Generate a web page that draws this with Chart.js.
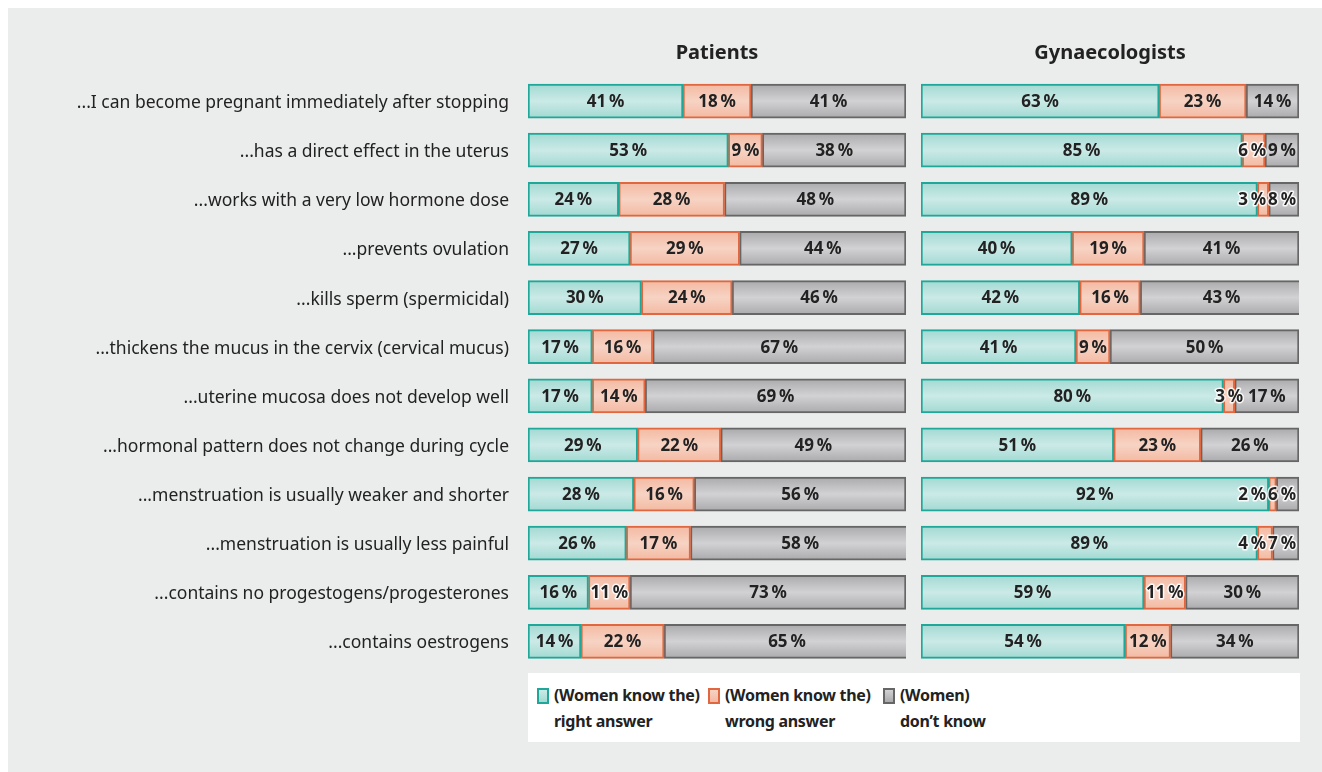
<!DOCTYPE html>
<html>
<head>
<meta charset="utf-8">
<script src="https://cdn.jsdelivr.net/npm/chart.js@4.4.1/dist/chart.umd.min.js"></script>
<style>
  body { margin: 0; background: #fff; width: 1322px; height: 772px; overflow: hidden; font-family: "Noto Sans", sans-serif; }
  #panel { position: absolute; left: 8px; top: 8px; width: 1314px; height: 764px; background: #ebecec; }
  canvas { position: absolute; }
  #legend { position: absolute; left: 528px; top: 673px; width: 772px; height: 69px; background: #fff; }
  .item { position: absolute; top: 9px; font-weight: bold; font-size: 16px; letter-spacing: -0.3px; line-height: 26px; color: #222; padding-left: 17px; }
  .item span.sw { position: absolute; left: 0; top: 6px; width: 8px; height: 12px; border: 2px solid; }
</style>
</head>
<body>
<div id="panel"></div>
<canvas id="patients" width="898" height="658" style="left:8px;top:8px"></canvas>
<canvas id="gyn" width="378" height="658" style="left:921px;top:8px"></canvas>
<div id="legend"></div>
<script>
const categories = [
  '...I can become pregnant immediately after stopping',
  '...has a direct effect in the uterus',
  '...works with a very low hormone dose',
  '...prevents ovulation',
  '...kills sperm (spermicidal)',
  '...thickens the mucus in the cervix (cervical mucus)',
  '...uterine mucosa does not develop well',
  '...hormonal pattern does not change during cycle',
  '...menstruation is usually weaker and shorter',
  '...menstruation is usually less painful',
  '...contains no progestogens/progesterones',
  '...contains oestrogens'
];
const seriesNames = [
  ['(Women know the)', 'right answer'],
  ['(Women know the)', 'wrong answer'],
  ['(Women)', 'don’t know']
];
const patRight = [41, 53, 24, 27, 30, 17, 17, 29, 28, 26, 16, 14];
const patWrong = [18, 9, 28, 29, 24, 16, 14, 22, 16, 17, 11, 22];
const patDontKnow = [41, 38, 48, 44, 46, 67, 69, 49, 56, 58, 73, 65];
const gynRight = [63, 85, 89, 40, 42, 41, 80, 51, 92, 89, 59, 54];
const gynWrong = [23, 6, 3, 19, 16, 9, 3, 23, 2, 4, 11, 12];
const gynDontKnow = [14, 9, 8, 41, 43, 50, 17, 26, 6, 7, 30, 34];

// edge colour, gradient edge, gradient middle
const colours = [
  ['#1fa899', '#a2d9d2', '#cbeae7'],
  ['#e0673f', '#f3b9a1', '#f7d3c4'],
  ['#666666', '#aaaaac', '#d2d2d4']
];

function gradient(c, edge, mid) {
  const chart = c.chart;
  if (!chart.chartArea || !chart.scales.y) return mid;
  const y = chart.scales.y.getPixelForValue(c.dataIndex);
  const g = chart.ctx.createLinearGradient(0, y - 17, 0, y + 17);
  g.addColorStop(0, edge);
  g.addColorStop(0.5, mid);
  g.addColorStop(1, edge);
  return g;
}

function makeDatasets(series) {
  return series.map((d, i) => ({
    label: seriesNames[i].join(' '),
    data: d,
    backgroundColor: c => gradient(c, colours[i][1], colours[i][2]),
    borderColor: colours[i][0],
    borderWidth: 2,
    borderSkipped: false,
    barThickness: 34
  }));
}

// percentage labels; crowded ones are pushed left so they don't collide
const valueLabels = {
  id: 'valueLabels',
  afterDatasetsDraw(chart) {
    const ctx = chart.ctx;
    const right = chart.chartArea.right - 3;
    ctx.save();
    ctx.font = 'bold 17px "Noto Sans"';
    ctx.textAlign = 'center';
    ctx.textBaseline = 'middle';
    ctx.lineJoin = 'round';
    chart.data.labels.forEach((_, i) => {
      const items = chart.data.datasets.map((ds, di) => {
        const bar = chart.getDatasetMeta(di).data[i];
        const txt = ds.data[i] + '\u2009%';
        const w = ctx.measureText(txt).width;
        return { txt, w, y: bar.y, cx: (bar.x + bar.base) / 2, seg: Math.abs(bar.x - bar.base) };
      });
      let limit = right;
      for (let k = items.length - 1; k >= 0; k--) {
        const it = items[k];
        if (it.cx + it.w / 2 > limit) it.cx = limit - it.w / 2;
        limit = it.cx - it.w / 2 - 2;
      }
      items.forEach(it => {
        if (it.w > it.seg - 4) {
          ctx.strokeStyle = 'rgba(255,255,255,0.85)';
          ctx.lineWidth = 3;
          ctx.strokeText(it.txt, it.cx, it.y + 1);
        }
        ctx.fillStyle = '#222';
        ctx.fillText(it.txt, it.cx, it.y + 1);
      });
    });
    ctx.restore();
  }
};

// panel title centred over the bar area
const panelTitle = {
  id: 'panelTitle',
  afterDraw(chart, args, opts) {
    const ctx = chart.ctx, a = chart.chartArea;
    ctx.save();
    ctx.font = 'bold 20px "Noto Sans"';
    ctx.fillStyle = '#222';
    ctx.textAlign = 'center';
    ctx.textBaseline = 'middle';
    ctx.fillText(opts.text, (a.left + a.right) / 2, 45);
    ctx.restore();
  }
};

function makeChart(id, title, series, showLabels) {
  return new Chart(document.getElementById(id), {
    type: 'bar',
    data: { labels: categories, datasets: makeDatasets(series) },
    options: {
      indexAxis: 'y',
      responsive: false,
      animation: false,
      layout: { padding: { top: 68.5, bottom: 0, left: 0, right: 0 } },
      plugins: {
        legend: { display: false },
        tooltip: { enabled: false },
        title: { display: false },
        panelTitle: { text: title }
      },
      scales: {
        x: { stacked: true, min: 0, max: 100, display: false },
        y: {
          stacked: true,
          display: showLabels,
          grid: { display: false },
          border: { display: false },
          ticks: {
            color: '#222',
            padding: 11,
            labelOffset: 2,
            font: { family: '"Noto Sans"', size: 17.5 }
          },
          afterFit(scale) {
            if (!showLabels) return;
            scale.width = 520;
            scale.paddingTop = 0;
            scale.paddingBottom = 0;
          }
        }
      }
    },
    plugins: [valueLabels, panelTitle]
  });
}

makeChart('patients', 'Patients', [patRight, patWrong, patDontKnow], true);
makeChart('gyn', 'Gynaecologists', [gynRight, gynWrong, gynDontKnow], false);

// legend built from the series names and colours
const legend = document.getElementById('legend');
const itemLeft = [9, 180, 355];
seriesNames.forEach((lines, i) => {
  const el = document.createElement('div');
  el.className = 'item';
  el.style.left = itemLeft[i] + 'px';
  el.innerHTML = '<span class="sw" style="border-color:' + colours[i][0] +
    ';background:linear-gradient(' + colours[i][2] + ',' + colours[i][1] + ')"></span>' +
    lines.join('<br>');
  legend.appendChild(el);
});
</script>
</body>
</html>
